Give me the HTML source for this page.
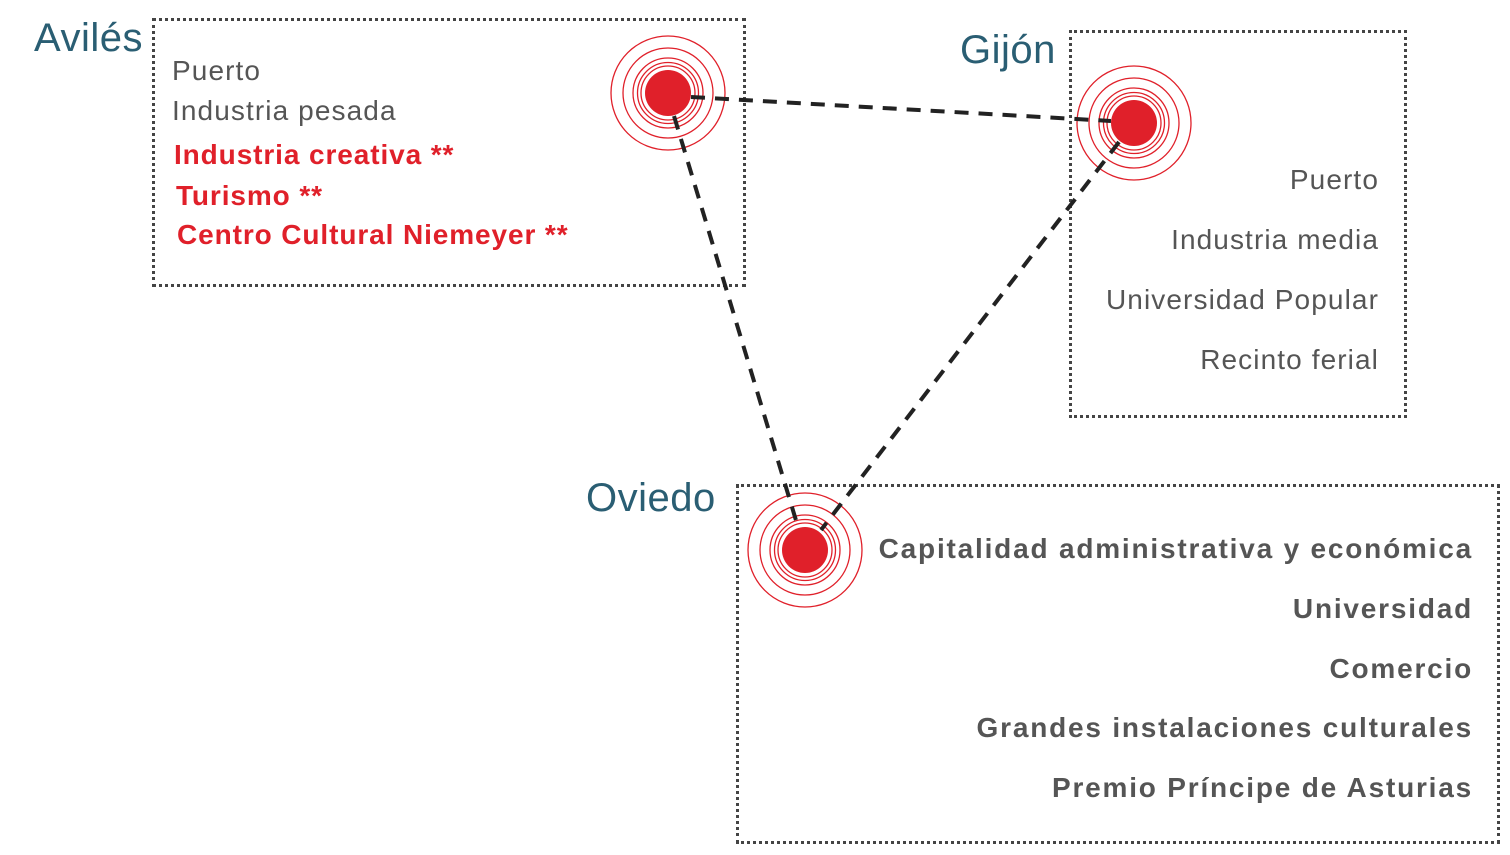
<!DOCTYPE html>
<html><head><meta charset="utf-8"><style>
body{margin:0;width:1510px;height:855px;background:#fff;position:relative;overflow:hidden;font-family:"Liberation Sans","DejaVu Sans",sans-serif}
.box{position:absolute;border:3.5px dotted #444;box-sizing:border-box}
.t{position:absolute;white-space:nowrap;font-size:28px;color:#555;line-height:1;letter-spacing:1.1px}
.h{position:absolute;font-size:40px;color:#2a5e73;line-height:1;white-space:nowrap;letter-spacing:0.5px}
.r{color:#e0202a;font-weight:bold;letter-spacing:0.9px}
.b{font-weight:bold;color:#555;letter-spacing:1.8px}
.ra{text-align:right}
</style></head><body>
<div class="box" style="left:152px;top:18px;width:594px;height:269px"></div>
<div class="box" style="left:1069px;top:30px;width:338px;height:388px"></div>
<div class="box" style="left:736px;top:484px;width:764px;height:360px"></div>
<div class="h" style="left:34px;top:18px">Avilés</div>
<div class="h" style="left:960px;top:30px">Gijón</div>
<div class="h" style="left:586px;top:478px">Oviedo</div>
<div class="t" style="left:172px;top:57px">Puerto</div>
<div class="t" style="left:172px;top:97px">Industria pesada</div>
<div class="t r" style="left:174px;top:141px">Industria creativa **</div>
<div class="t r" style="left:176px;top:182px">Turismo **</div>
<div class="t r" style="left:177px;top:221px">Centro Cultural Niemeyer **</div>
<div class="t ra" style="right:131px;top:166px">Puerto</div>
<div class="t ra" style="right:131px;top:226px">Industria media</div>
<div class="t ra" style="right:131px;top:286px">Universidad Popular</div>
<div class="t ra" style="right:131px;top:346px">Recinto ferial</div>
<div class="t b ra" style="right:37px;top:535px">Capitalidad administrativa y económica</div>
<div class="t b ra" style="right:37px;top:595px">Universidad</div>
<div class="t b ra" style="right:37px;top:655px">Comercio</div>
<div class="t b ra" style="right:37px;top:714px">Grandes instalaciones culturales</div>
<div class="t b ra" style="right:37px;top:774px">Premio Príncipe de Asturias</div>
<svg width="1510" height="855" style="position:absolute;left:0;top:0">
<defs><g id="tg" fill="none" stroke="#e0202a" stroke-width="1.3">
<circle r="57"/><circle r="45"/><circle r="35"/><circle r="30.5"/><circle r="27"/>
<circle r="23" fill="#e0202a" stroke="none"/></g></defs>
<use href="#tg" x="668" y="93"/>
<use href="#tg" x="1134" y="123"/>
<use href="#tg" x="805" y="550"/>
<g stroke="#222" stroke-width="4" stroke-dasharray="14,10" fill="none">
<line x1="691" y1="97" x2="1111" y2="121"/>
<line x1="674" y1="116" x2="798" y2="527"/>
<line x1="1119" y1="142" x2="821" y2="530"/>
</g>
</svg>
</body></html>
